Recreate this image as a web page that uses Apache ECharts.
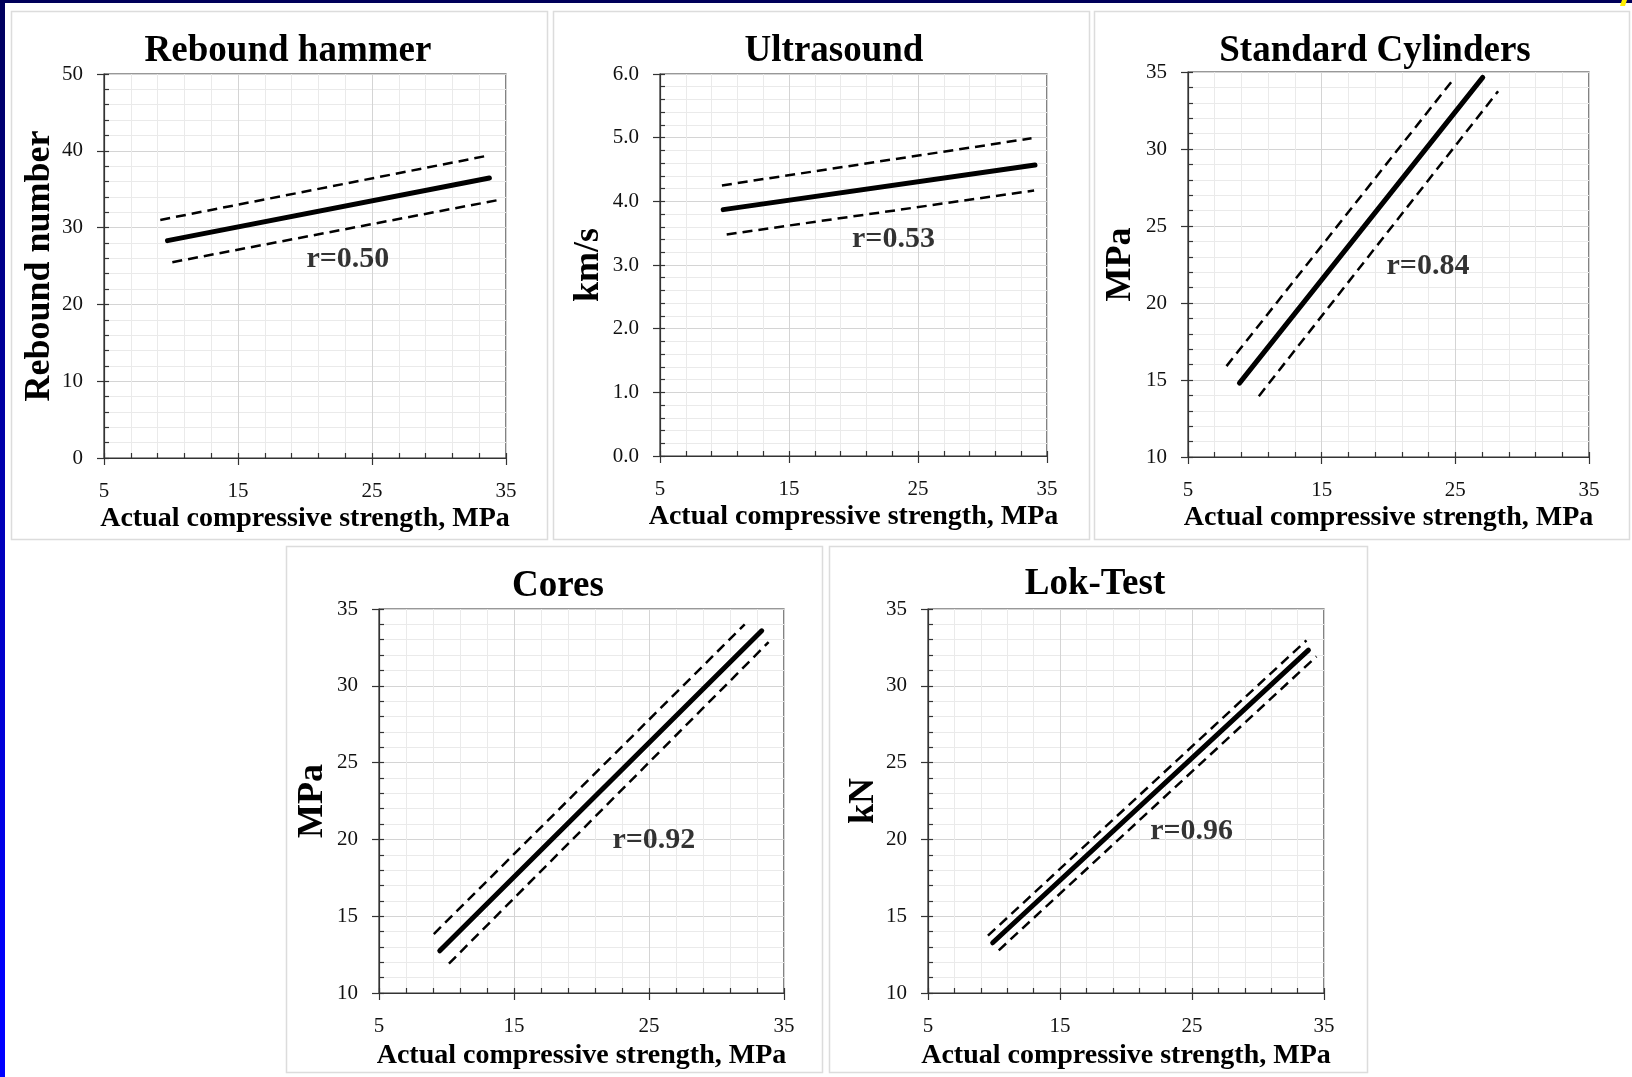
<!DOCTYPE html>
<html>
<head>
<meta charset="utf-8">
<title>Strength correlations</title>
<script src="https://cdn.jsdelivr.net/npm/echarts@6/dist/echarts.min.js"></script>
<style>
  html, body { margin: 0; padding: 0; background: #ffffff; }
  #chart { width: 1632px; height: 1077px; }
</style>
</head>
<body>
<div id="chart"></div>
<script>
// ---- data -------------------------------------------------------------
const panelTitles = ['Rebound hammer', 'Ultrasound', 'Standard Cylinders', 'Cores', 'Lok-Test'];
const yAxisNames = ['Rebound number', 'km/s', 'MPa', 'MPa', 'kN'];
const xAxisName = 'Actual compressive strength, MPa';
const rValues = ['0.50', '0.53', '0.84', '0.92', '0.96'];

// tick values (x shared by all panels)
const xTicks = [5, 15, 25, 35];
const yTicksRebound = [0, 10, 20, 30, 40, 50];
const yTicksUltrasound = [0.0, 1.0, 2.0, 3.0, 4.0, 5.0, 6.0];
const yTicksCylinders = [10, 15, 20, 25, 30, 35];
const yTicksCores = [10, 15, 20, 25, 30, 35];
const yTicksLok = [10, 15, 20, 25, 30, 35];

// regression line and the two dashed bounds: [x, y] end points
const reboundFit   = [[9.74, 28.3], [33.76, 36.45]];
const reboundUpper = [[9.2, 31.0], [33.45, 39.3]];
const reboundLower = [[10.1, 25.5], [34.45, 33.6]];

const ultrasoundFit   = [[9.9, 3.87], [34.07, 4.57]];
const ultrasoundUpper = [[9.8, 4.25], [33.8, 4.99]];
const ultrasoundLower = [[10.17, 3.48], [34.0, 4.17]];

const cylindersFit   = [[8.85, 14.8], [27.05, 34.65]];
const cylindersUpper = [[7.88, 15.9], [24.88, 34.55]];
const cylindersLower = [[10.3, 13.95], [28.2, 33.75]];

const coresFit   = [[9.5, 12.75], [33.35, 33.58]];
const coresUpper = [[9.06, 13.84], [32.09, 34.0]];
const coresLower = [[10.18, 11.91], [33.86, 32.84]];

const lokFit   = [[9.9, 13.27], [33.82, 32.32]];
const lokUpper = [[9.54, 13.73], [33.67, 32.96]];
const lokLower = [[10.36, 12.78], [34.43, 31.91]];

// ---- layout -----------------------------------------------------------
const FONT = '"Liberation Serif", "Times New Roman", serif';

const plotBoxes = [
  { left: 104, top: 74, width: 402, height: 384 },
  { left: 660, top: 74, width: 387, height: 382 },
  { left: 1188, top: 72, width: 401, height: 385 },
  { left: 379, top: 609, width: 405, height: 384 },
  { left: 928, top: 609, width: 396, height: 384 }
];
const panelFrames = [
  [11, 11, 536, 528], [553, 11, 536, 528], [1094, 11, 535, 528],
  [286, 546, 536, 526], [829, 546, 538, 526]
];
const titleAnchors = [[288, 51], [834, 51], [1375, 51], [558, 586], [1095, 584]];
const xNameGaps = [47, 47, 47, 49, 49];
const yNameGaps = [46, 53, 49, 48, 45];
const rAnchors = [[23.2, 25.9], [23.1, 3.4], [22.95, 22.4], [25.36, 19.95], [24.97, 20.5]];

const yTickSets = [yTicksRebound, yTicksUltrasound, yTicksCylinders, yTicksCores, yTicksLok];
const fitSets = [reboundFit, ultrasoundFit, cylindersFit, coresFit, lokFit];
const upperSets = [reboundUpper, ultrasoundUpper, cylindersUpper, coresUpper, lokUpper];
const lowerSets = [reboundLower, ultrasoundLower, cylindersLower, coresLower, lokLower];

const AXIS_COLOR = '#333333';
const MAJOR_GRID = '#d4d4d4';
const MINOR_GRID = '#eaeaea';

const grids = [], xAxes = [], yAxes = [], series = [], graphics = [];

// page edge bands
graphics.push({
  type: 'rect', shape: { x: 0, y: 0, width: 5, height: 1077 },
  style: { fill: new echarts.graphic.LinearGradient(0, 0, 0, 1, [
    { offset: 0, color: '#00005c' }, { offset: 0.5, color: '#0000bb' }, { offset: 0.93, color: '#0000ff' }, { offset: 1, color: '#0000ff' }
  ]) }, silent: true
});
graphics.push({ type: 'rect', shape: { x: 0, y: 0, width: 1632, height: 3 }, style: { fill: '#00005a' }, silent: true });
graphics.push({ type: 'polygon', shape: { points: [[1622, 0], [1627, 0], [1625, 6], [1620, 6]] }, style: { fill: '#ffee00' }, silent: true });

panelTitles.forEach((title, i) => {
  const yt = yTickSets[i];
  const yMin = yt[0], yMax = yt[yt.length - 1], yStep = yt[1] - yt[0];
  const xMin = xTicks[0], xMax = xTicks[xTicks.length - 1], xStep = xTicks[1] - xTicks[0];
  const decimals = i === 1 ? 1 : 0;

  const f = panelFrames[i];
  graphics.push({
    type: 'rect', shape: { x: f[0] + 0.5, y: f[1] + 0.5, width: f[2], height: f[3] },
    style: { fill: 'none', stroke: '#dcdcdc', lineWidth: 1.5 }, silent: true
  });
  graphics.push({
    type: 'text', x: titleAnchors[i][0], y: titleAnchors[i][1], silent: true,
    style: { text: title, font: 'bold 37px ' + FONT, fill: '#000', align: 'center', verticalAlign: 'middle' }
  });

  grids.push(Object.assign({ show: true, borderColor: AXIS_COLOR, borderWidth: 1.2, backgroundColor: 'transparent' }, plotBoxes[i]));

  // main axes: labels, outward major ticks, grid lines
  xAxes.push({
    gridIndex: i, type: 'value', position: 'bottom', min: xMin, max: xMax, interval: xStep,
    name: xAxisName, nameLocation: 'middle', nameGap: xNameGaps[i],
    nameTextStyle: { fontFamily: FONT, fontWeight: 'bold', fontSize: 28, color: '#000' },
    axisLine: { show: true, onZero: false, lineStyle: { color: AXIS_COLOR, width: 1.2 } },
    axisTick: { show: true, inside: false, length: 7, lineStyle: { color: AXIS_COLOR, width: 1.2 } },
    axisLabel: { fontFamily: FONT, fontSize: 21, color: '#111', margin: 23 },
    splitLine: { show: true, lineStyle: { color: MAJOR_GRID, width: 1 } },
    minorTick: { show: false, splitNumber: 5 },
    minorSplitLine: { show: true, lineStyle: { color: MINOR_GRID, width: 1 } }
  });
  yAxes.push({
    gridIndex: i, type: 'value', position: 'left', min: yMin, max: yMax, interval: yStep,
    name: yAxisNames[i], nameLocation: 'middle', nameGap: yNameGaps[i],
    nameTextStyle: { fontFamily: FONT, fontWeight: 'bold', fontSize: 36, color: '#000' },
    axisLine: { show: true, onZero: false, lineStyle: { color: AXIS_COLOR, width: 1.2 } },
    axisTick: { show: true, inside: false, length: 7, lineStyle: { color: AXIS_COLOR, width: 1.2 } },
    axisLabel: { fontFamily: FONT, fontSize: 21, color: '#111', margin: 21,
                 formatter: v => v.toFixed(decimals) },
    splitLine: { show: true, lineStyle: { color: MAJOR_GRID, width: 1 } },
    minorTick: { show: false, splitNumber: 5 },
    minorSplitLine: { show: true, lineStyle: { color: MINOR_GRID, width: 1 } }
  });
  // companion axes carrying the inward minor ticks
  xAxes.push({
    gridIndex: i, type: 'value', position: 'bottom', min: xMin, max: xMax, interval: xStep / 5,
    axisLine: { show: false, onZero: false }, axisLabel: { show: false }, splitLine: { show: false },
    axisTick: { show: true, inside: true, length: 5, lineStyle: { color: AXIS_COLOR, width: 1.2 } }
  });
  yAxes.push({
    gridIndex: i, type: 'value', position: 'left', min: yMin, max: yMax, interval: yStep / 5,
    axisLine: { show: false, onZero: false }, axisLabel: { show: false }, splitLine: { show: false },
    axisTick: { show: true, inside: true, length: 5, lineStyle: { color: AXIS_COLOR, width: 1.2 } }
  });

  const xi = 2 * i, yi = 2 * i;
  series.push({
    type: 'line', xAxisIndex: xi, yAxisIndex: yi, data: upperSets[i], symbol: 'none', z: 3,
    lineStyle: { color: '#000', width: 2.5, type: [10, 6] }
  });
  series.push({
    type: 'line', xAxisIndex: xi, yAxisIndex: yi, data: lowerSets[i], symbol: 'none', z: 3,
    lineStyle: { color: '#000', width: 2.5, type: [10, 6] }
  });
  series.push({
    type: 'line', xAxisIndex: xi, yAxisIndex: yi, data: fitSets[i], symbol: 'none', z: 4,
    lineStyle: { color: '#000', width: 5, cap: 'round' }
  });
  series.push({
    type: 'scatter', xAxisIndex: xi, yAxisIndex: yi, z: 5,
    data: [{ value: rAnchors[i], name: 'r=' + rValues[i] }],
    symbolSize: 1, itemStyle: { color: 'rgba(0,0,0,0)' },
    label: { show: true, position: 'inside', formatter: p => p.name,
             fontFamily: FONT, fontWeight: 'bold', fontSize: 30, color: '#000' }
  });
});

const chart = echarts.init(document.getElementById('chart'), null, { renderer: 'canvas' });
chart.setOption({
  backgroundColor: '#ffffff',
  animation: false,
  grid: grids,
  xAxis: xAxes,
  yAxis: yAxes,
  series: series,
  graphic: { elements: graphics }
});
</script>
</body>
</html>
